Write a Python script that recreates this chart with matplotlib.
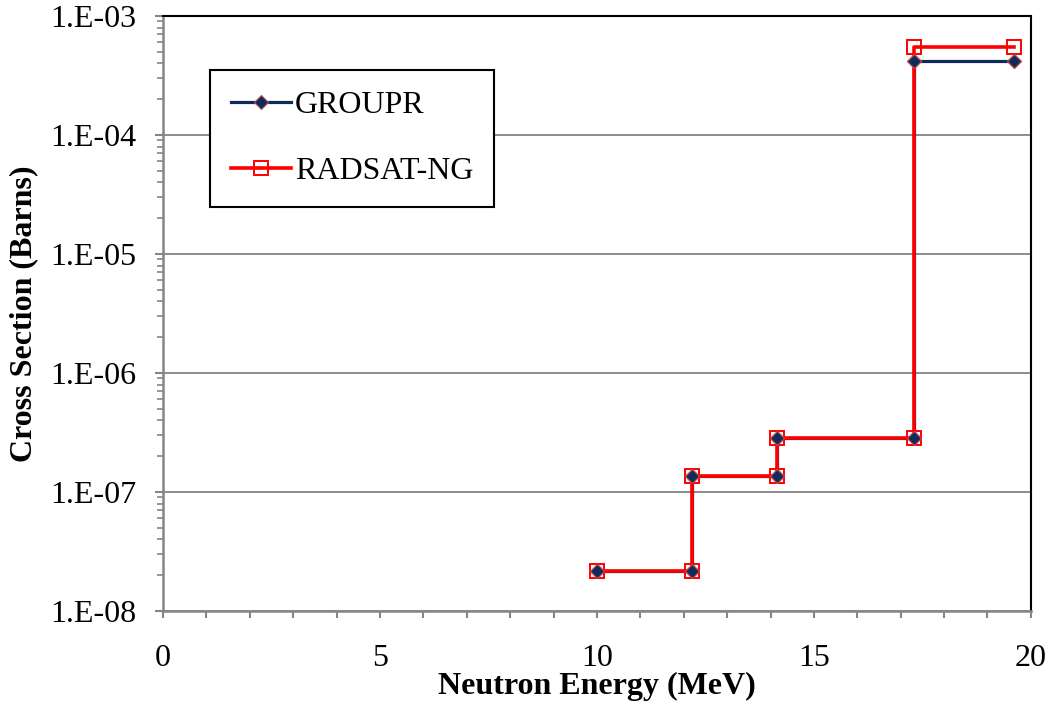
import math
import matplotlib
matplotlib.use("Agg")
import matplotlib.pyplot as plt
from matplotlib.ticker import LogLocator, FixedLocator, NullFormatter, FuncFormatter

# Group boundaries (MeV) and group-averaged cross sections (barns), drawn as steps
energy = [10.0, 12.2, 12.2, 14.15, 14.15, 17.3, 17.3, 19.6]
groupr = [2.18e-8, 2.18e-8, 1.35e-7, 1.35e-7, 2.84e-7, 2.84e-7, 4.16e-4, 4.16e-4]
radsat = [2.18e-8, 2.18e-8, 1.35e-7, 1.35e-7, 2.84e-7, 2.84e-7, 5.45e-4, 5.45e-4]

x_ticks = [0, 5, 10, 15, 20]
y_ticks = [1e-8, 1e-7, 1e-6, 1e-5, 1e-4, 1e-3]

plt.rcParams["font.family"] = ["Liberation Serif", "DejaVu Serif"]
FS = 23

fig = plt.figure(figsize=(10.53, 7.06), dpi=100)
ax = fig.add_axes([0.1548, 0.1346, 0.8242, 0.8427])

navy = "#0F2A5C"
red = "#FF0000"
diamond_edge = "#C0504D"

ax.plot(energy, groupr, color=navy, lw=2.3, zorder=3, label="GROUPR",
        marker="D", markersize=7, markerfacecolor=navy, markeredgecolor=diamond_edge,
        markeredgewidth=0.8)
ax.plot(energy, radsat, color=red, lw=2.6, zorder=4, label="RADSAT-NG",
        marker="s", markersize=10.5, markerfacecolor="none", markeredgecolor=red,
        markeredgewidth=1.4)
# keep the diamonds visible over the red line
ax.plot(energy, groupr, ls="none", marker="D", markersize=7, markerfacecolor=navy,
        markeredgecolor=diamond_edge, markeredgewidth=0.8, zorder=5)

ax.set_yscale("log")
ax.set_xlim(0, 20)
ax.set_ylim(1e-8, 1e-3)

ax.xaxis.set_major_locator(FixedLocator(x_ticks))
ax.xaxis.set_minor_locator(FixedLocator(list(range(0, 21))))
ax.yaxis.set_major_locator(FixedLocator(y_ticks))
ax.yaxis.set_minor_locator(LogLocator(base=10, subs=range(2, 10), numticks=20))
ax.yaxis.set_minor_formatter(NullFormatter())
ax.yaxis.set_major_formatter(FuncFormatter(lambda v, p: "1.E-%02d" % round(-math.log10(v))))

ax.grid(axis="y", which="major", color="#8C8C8C", lw=1.4, zorder=1)

gray = "#868686"
for s in ("left", "bottom"):
    ax.spines[s].set_color(gray)
    ax.spines[s].set_linewidth(1.8)
for s in ("top", "right"):
    ax.spines[s].set_color("black")
    ax.spines[s].set_linewidth(1.5)

ax.tick_params(axis="y", which="major", direction="out", length=5.5, width=1.5,
               color=gray, labelsize=FS, pad=14)
ax.tick_params(axis="x", which="major", direction="out", length=5, width=1.5,
               color=gray, labelsize=FS, pad=19)
ax.tick_params(axis="x", which="minor", direction="out", length=5, width=1.5, color=gray)
ax.tick_params(axis="y", which="minor", direction="out", length=4, width=1.2, color=gray)

ax.set_xlabel("Neutron Energy (MeV)", fontsize=FS, fontweight="bold", labelpad=-1)
ax.set_ylabel("Cross Section (Barns)", fontsize=FS, fontweight="bold", labelpad=8)

leg = ax.legend(loc="upper left", bbox_to_anchor=(0.054, 0.909), fontsize=FS,
                frameon=True, fancybox=False, edgecolor="black", framealpha=1,
                handlelength=1.9, handletextpad=0.12, labelspacing=1.15,
                borderpad=0.65, borderaxespad=0)
leg.get_frame().set_linewidth(1.5)

fig.savefig("out.png", dpi=100)
